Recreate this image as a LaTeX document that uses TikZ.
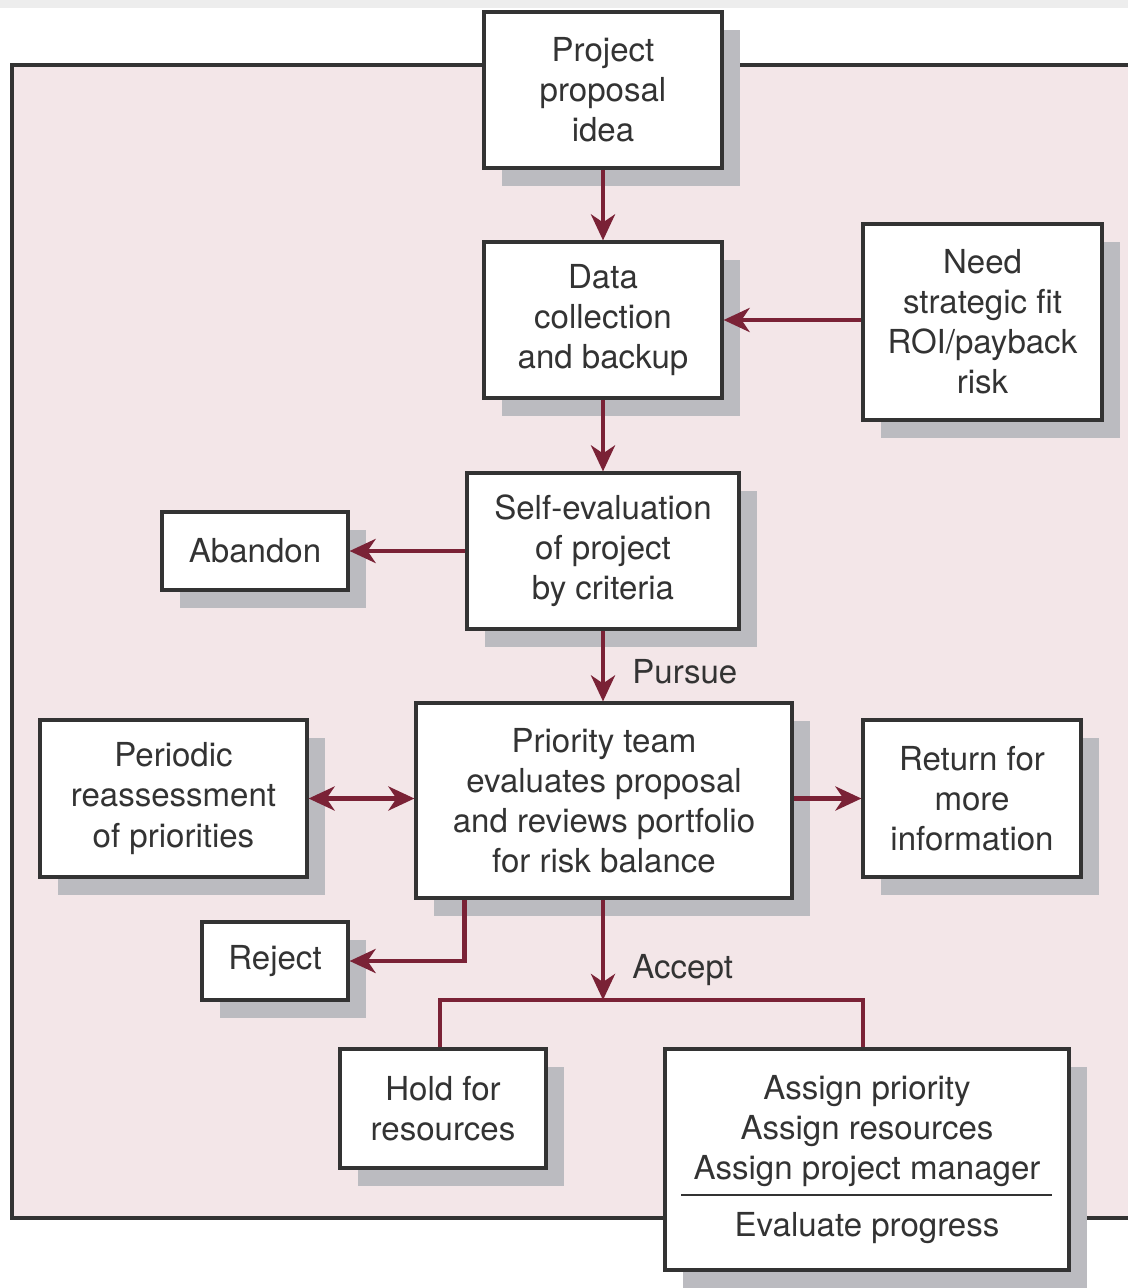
\documentclass[tikz,border=0pt]{standalone}
\usepackage{fontspec}
\setmainfont{TeX Gyre Heros}
\usetikzlibrary{arrows.meta,shadows,positioning}
\definecolor{wine}{HTML}{7A2236}
\definecolor{blush}{HTML}{F3E6E8}
\definecolor{shade}{HTML}{BBBBC0}
\definecolor{ink}{HTML}{333333}

\begin{document}
\begin{tikzpicture}[
  box/.style={draw=ink,line width=0.9pt,fill=white,text=ink,align=center,inner sep=0pt,
    font=\fontsize{9.4}{11.4}\selectfont,
    drop shadow={shadow xshift=1.8mm,shadow yshift=-1.8mm,fill=shade,opacity=1}},
  tip/.tip={Stealth[length=2.6mm,width=2.4mm,inset=0.8mm]},
  link/.style={wine,line width=1.4pt,-tip},
  lbl/.style={text=ink,anchor=west,font=\fontsize{9.4}{11.4}\selectfont}]
\useasboundingbox (0,0) rectangle (11.28,-12.88);
\fill[black!7] (0,0) rectangle (11.28,-0.08);

% frame
\fill[blush] (0.12,-0.65) rectangle (11.28,-12.18);
\draw[ink,line width=0.9pt] (11.28,-0.65) -- (0.12,-0.65) -- (0.12,-12.18) -- (11.28,-12.18);

\node[box,minimum width=2.38cm,minimum height=1.56cm] (idea) at (6.03,-0.90) {Project\\proposal\\idea};
\node[box,minimum width=2.38cm,minimum height=1.56cm] (data) at (6.03,-3.20) {Data\\collection\\and backup};
\node[box,minimum width=2.39cm,minimum height=1.96cm] (need) at (9.825,-3.22) {Need\\strategic fit\\ROI/payback\\risk};
\node[box,minimum width=2.72cm,minimum height=1.56cm] (self) at (6.03,-5.51) {Self-evaluation\\of project\\by criteria};
\node[box,minimum width=1.86cm,minimum height=0.78cm] (abandon) at (2.55,-5.51) {Abandon};
\node[box,minimum width=3.76cm,minimum height=1.95cm] (team) at (6.04,-8.005) {Priority team\\evaluates proposal\\and reviews portfolio\\for risk balance};
\node[box,minimum width=2.67cm,minimum height=1.57cm] (periodic) at (1.735,-7.985) {Periodic\\reassessment\\of priorities};
\node[box,minimum width=2.18cm,minimum height=1.57cm] (return) at (9.72,-7.985) {Return for\\more\\information};
\node[box,minimum width=1.46cm,minimum height=0.78cm] (reject) at (2.75,-9.61) {Reject};
\node[box,minimum width=2.06cm,minimum height=1.19cm] (hold) at (4.43,-11.085) {Hold for\\resources};
\node[box,minimum width=4.04cm,minimum height=2.21cm] (assign) at (8.67,-11.595)
  {Assign priority\\Assign resources\\Assign project manager\\[0.16cm]Evaluate progress};
\draw[ink,line width=0.6pt] ([shift={(0.18,-0.355)}]assign.west) -- ([shift={(-0.19,-0.355)}]assign.east);

\node[lbl] (pursue) at (6.20,-6.72) {Pursue};
\node[lbl] (accept) at (6.20,-9.70) {Accept};
\coordinate (split) at (6.03,-10.0);

\draw[link] (idea) -- (data);
\draw[link] (need.west |- data) -- (data);
\draw[link] (data) -- (self);
\draw[link] (self) -- (abandon);
\draw[link] (self) -- (team.north -| self);
\draw[link,tip-tip] (periodic.east) -- (periodic.east -| team.west);
\draw[link] (team.east |- return) -- (return);
\draw[link] ([xshift=5mm]team.south west) |- (reject);
\draw[link] (team.south -| split) -- (split);
\draw[wine,line width=1.4pt] ([xshift=-0.3mm]hold.north) |- (split) -| ([xshift=-0.4mm]assign.north);

\end{tikzpicture}
\end{document}
